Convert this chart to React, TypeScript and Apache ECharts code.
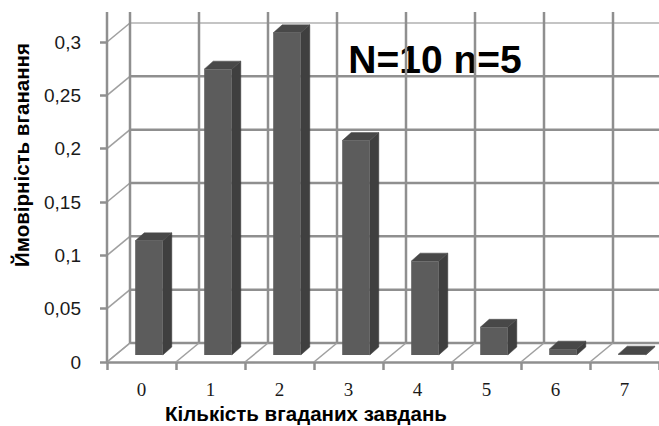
import React, { useEffect, useRef } from 'react';
import * as echarts from 'echarts';

const categories = ['0', '1', '2', '3', '4', '5', '6', '7'];
const probabilities = [0.107, 0.268, 0.302, 0.201, 0.088, 0.026, 0.0055, 0.0008];
const yTicks = [0, 0.05, 0.1, 0.15, 0.2, 0.25, 0.3];
const boundaryIndexes = [0, 1, 2, 3, 4, 5, 6, 7];
const annotation = 'N=10 n=5';
const xTitle = 'Кількість вгаданих завдань';
const yTitle = 'Ймовірність вганання';

const DX = 23;
const DY = -19;
const GRID_COLOR = '#8f8f8f';
const WALL_TOP_EXTRA = 30;

export default function App() {
  const ref = useRef<HTMLDivElement>(null);

  useEffect(() => {
    document.body.style.margin = '0';
    if (!ref.current) return;
    const chart = echarts.init(ref.current, undefined, { renderer: 'svg' });

    const lineStyle = { stroke: GRID_COLOR, lineWidth: 2.5 };
    const diagStyle = { stroke: '#a0a0a0', lineWidth: 1.6 };

    const option: any = {
      animation: false,
      backgroundColor: '#ffffff',
      grid: { left: 107, top: 42, bottom: 64, right: -11, containLabel: false },
      xAxis: {
        type: 'category',
        data: categories,
        boundaryGap: true,
        axisLine: { show: true, lineStyle: { color: GRID_COLOR, width: 2.5 } },
        axisTick: { show: true, interval: 0, length: 8, lineStyle: { color: GRID_COLOR, width: 2.5 } },
        axisLabel: {
          interval: 0,
          margin: 18,
          fontSize: 19,
          fontFamily: 'Liberation Serif',
          color: '#1a1a1a',
        },
        splitLine: { show: false },
      },
      yAxis: {
        type: 'value',
        min: 0,
        max: 0.3,
        interval: 0.05,
        axisLine: { show: false },
        axisTick: { show: true, length: 7, lineStyle: { color: GRID_COLOR, width: 2.5 } },
        axisLabel: {
          margin: 26,
          fontSize: 19,
          fontFamily: 'Liberation Sans',
          color: '#1a1a1a',
          formatter: (v: number) => String(Number(v.toFixed(2))).replace('.', ','),
        },
        splitLine: { show: false },
      },
      graphic: [
        {
          type: 'text',
          x: 21,
          y: 155,
          rotation: Math.PI / 2,
          style: {
            text: yTitle,
            fontSize: 20.5,
            fontWeight: 'bold',
            fontFamily: 'Liberation Sans',
            fill: '#000',
            align: 'center',
            verticalAlign: 'middle',
          },
        },
        {
          type: 'text',
          x: 306,
          y: 413,
          style: {
            text: xTitle,
            fontSize: 20.5,
            fontWeight: 'bold',
            fontFamily: 'Liberation Sans',
            fill: '#000',
            align: 'center',
            verticalAlign: 'middle',
          },
        },
        {
          type: 'text',
          x: 435,
          y: 59,
          style: {
            text: annotation,
            fontSize: 39,
            fontWeight: 'bold',
            fontFamily: 'Liberation Sans',
            fill: '#000',
            align: 'center',
            verticalAlign: 'middle',
          },
        },
      ],
      series: [
        {
          type: 'custom',
          name: 'horizontal-grid',
          clip: false,
          silent: true,
          data: yTicks.map((v) => [0, v]),
          renderItem: (params: any, api: any) => {
            const v = api.value(1);
            const p = api.coord([0, v]);
            const w = api.size([1, 0])[0];
            const cs = params.coordSys;
            const fx = p[0] - w / 2;
            const fy = p[1];
            const isTop = v >= 0.3 - 1e-9;
            const st = isTop ? { stroke: '#c4c4c4', lineWidth: 2 } : lineStyle;
            return {
              type: 'group',
              children: [
                { type: 'line', shape: { x1: fx, y1: fy, x2: fx + DX, y2: fy + DY }, style: diagStyle },
                { type: 'line', shape: { x1: fx + DX, y1: fy + DY, x2: cs.x + cs.width + DX, y2: fy + DY }, style: st },
              ],
            };
          },
        },
        {
          type: 'custom',
          name: 'vertical-grid',
          clip: false,
          silent: true,
          data: boundaryIndexes.map((i) => [i, 0]),
          renderItem: (params: any, api: any) => {
            const i = api.value(0);
            const p = api.coord([i, 0]);
            const w = api.size([1, 0])[0];
            const cs = params.coordSys;
            const xl = p[0] - w / 2;
            const yb = p[1];
            const top = cs.y - WALL_TOP_EXTRA;
            const children: any[] = [
              { type: 'line', shape: { x1: xl, y1: yb, x2: xl + DX, y2: yb + DY }, style: diagStyle },
              { type: 'line', shape: { x1: xl + DX, y1: yb + DY, x2: xl + DX, y2: top }, style: lineStyle },
            ];
            if (i === 0) {
              children.push({ type: 'line', shape: { x1: xl, y1: yb, x2: xl, y2: top }, style: lineStyle });
            }
            return { type: 'group', children };
          },
        },
        {
          type: 'custom',
          name: 'bars',
          clip: false,
          data: probabilities.map((v, i) => [i, v]),
          renderItem: (params: any, api: any) => {
            const i = api.value(0);
            const v = api.value(1);
            const pTop = api.coord([i, v]);
            const pBase = api.coord([i, 0]);
            const w = api.size([1, 0])[0];
            const bw = w * 0.4;
            const offX = 7.5;
            const offY = -7;
            const dX = 9;
            const dY = -8;
            const x0 = pTop[0] + offX - bw / 2;
            const x1 = x0 + bw;
            const yT = pTop[1] + offY;
            const yB = pBase[1] + offY;
            return {
              type: 'group',
              children: [
                {
                  type: 'polygon',
                  shape: { points: [[x1, yB], [x1, yT], [x1 + dX, yT + dY], [x1 + dX, yB + dY]] },
                  style: { fill: '#3f3f3f', stroke: '#3f3f3f', lineWidth: 0.5 },
                },
                {
                  type: 'polygon',
                  shape: { points: [[x0, yT], [x1, yT], [x1 + dX, yT + dY], [x0 + dX, yT + dY]] },
                  style: { fill: '#484848', stroke: '#484848', lineWidth: 0.5 },
                },
                {
                  type: 'rect',
                  shape: { x: x0, y: yT, width: bw, height: Math.max(yB - yT, 0.5) },
                  style: { fill: '#5c5c5c' },
                },
              ],
            };
          },
        },
      ],
    };

    chart.setOption(option);
    return () => chart.dispose();
  }, []);

  return <div ref={ref} style={{ width: 659, height: 426 }} />;
}
